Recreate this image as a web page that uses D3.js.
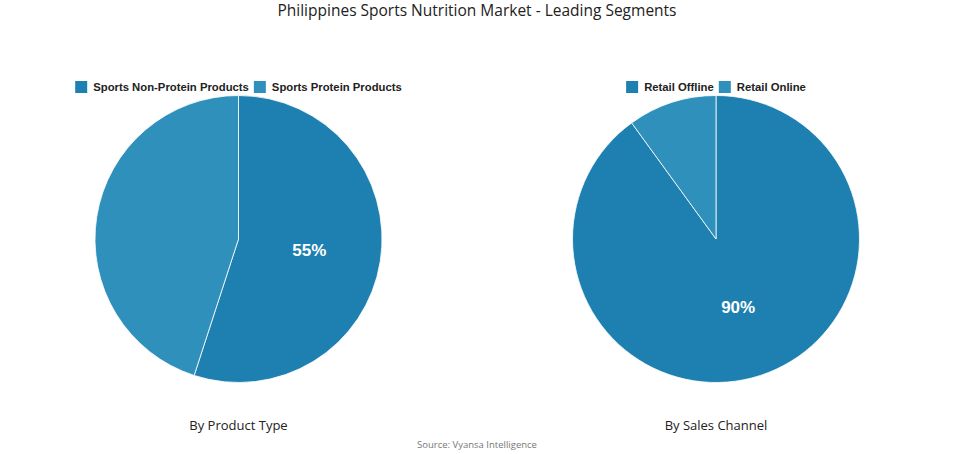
<!DOCTYPE html>
<html><head><meta charset="utf-8">
<script src="https://cdn.jsdelivr.net/npm/d3@7"></script>
<style>body{margin:0;background:#fff;}svg{display:block;}</style>
</head><body>
<svg id="c" width="955" height="454"></svg>
<script>
const title = "Philippines Sports Nutrition Market - Leading Segments";
const source = "Source: Vyansa Intelligence";
const productLabels = ["Sports Non-Protein Products", "Sports Protein Products"];
const productValues = [55, 45];
const channelLabels = ["Retail Offline", "Retail Online"];
const channelValues = [90, 10];
const colors = ["#1d80b0", "#2f90bb"];

const svg = d3.select("#c");
svg.append("text").attr("x", 477).attr("y", 16).attr("text-anchor", "middle")
  .attr("font-family", "'Open Sans', sans-serif").attr("font-size", 15.5).attr("fill", "#222").text(title);
svg.append("text").attr("x", 477).attr("y", 448).attr("text-anchor", "middle")
  .attr("font-family", "'Open Sans', sans-serif").attr("font-size", 9.5).attr("fill", "#777").text(source);

function drawPie(cx, cy, r, labels, values, subtitle) {
  const g = svg.append("g");
  const pie = d3.pie().sort(null).value(d => d)(values);
  const arc = d3.arc().innerRadius(0).outerRadius(r);
  const lab = d3.arc().innerRadius(r * 0.5).outerRadius(r * 0.5);
  const pg = g.append("g").attr("transform", `translate(${cx},${cy})`);
  pg.selectAll("path").data(pie).join("path").attr("d", arc)
    .attr("fill", (d, i) => colors[i]).attr("stroke", "#fff").attr("stroke-width", 0.8);
  pg.selectAll("text").data(pie.filter(d => d.value >= 50)).join("text")
    .attr("transform", d => `translate(${lab.centroid(d)})`)
    .attr("text-anchor", "middle").attr("dy", "0.35em")
    .attr("font-family", "'Liberation Sans', Arial, sans-serif").attr("font-weight", "bold")
    .attr("font-size", 17).attr("fill", "#fff").text(d => d.value + "%");
  // legend
  const lg = g.append("g");
  let x = 0;
  labels.forEach((l, i) => {
    const it = lg.append("g").attr("transform", `translate(${x},0)`);
    it.append("rect").attr("x", 0).attr("y", -6).attr("width", 12).attr("height", 12).attr("fill", colors[i]);
    const t = it.append("text").attr("x", 18).attr("y", 0).attr("dy", "0.35em")
      .attr("font-family", "'Liberation Sans', Arial, sans-serif").attr("font-weight", "bold")
      .attr("font-size", 11.3).attr("fill", "#222").text(l);
    x += 18 + t.node().getComputedTextLength() + 5;
  });
  const w = x - 5;
  lg.attr("transform", `translate(${cx - w / 2},87)`);
  g.append("text").attr("x", cx).attr("y", 430).attr("text-anchor", "middle")
    .attr("font-family", "'Open Sans', sans-serif").attr("font-size", 13).attr("fill", "#222").text(subtitle);
}
drawPie(238.5, 239, 143.5, productLabels, productValues, "By Product Type");
drawPie(716, 239, 143.5, channelLabels, channelValues, "By Sales Channel");
</script>
</body></html>
